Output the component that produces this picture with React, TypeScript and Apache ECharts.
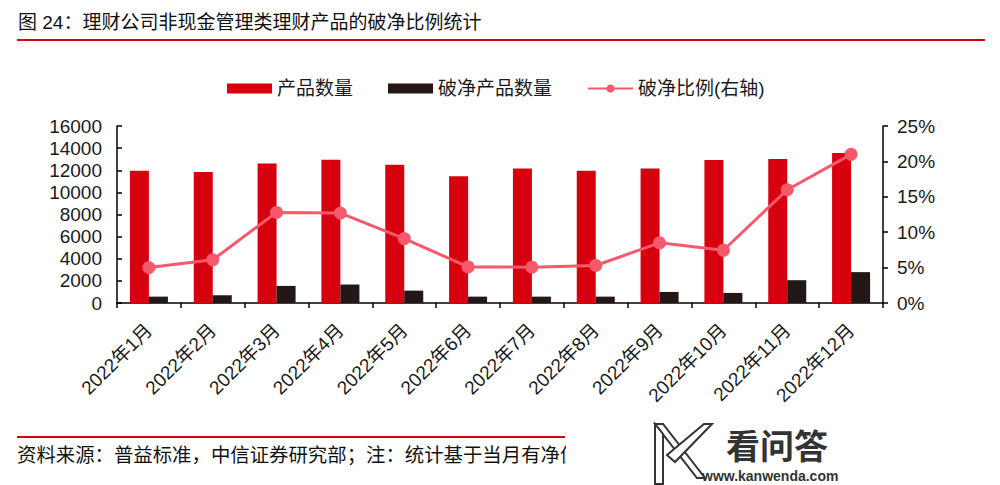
import React, { useEffect, useRef } from "react";
import * as echarts from "echarts";

const categories = [
  "2022年1月", "2022年2月", "2022年3月", "2022年4月", "2022年5月", "2022年6月",
  "2022年7月", "2022年8月", "2022年9月", "2022年10月", "2022年11月", "2022年12月",
];
const productCount = [11950, 11850, 12600, 12950, 12500, 11450, 12150, 11950, 12150, 12930, 13020, 13560];
const brokenCount = [575, 700, 1545, 1670, 1120, 575, 575, 575, 1000, 910, 2060, 2790];
const brokenRatio = [5.0, 6.1, 12.8, 12.7, 9.1, 5.1, 5.05, 5.3, 8.5, 7.45, 16.0, 21.0];

const leftTicks = { min: 0, max: 16000, interval: 2000 };
const rightTicks = { min: 0, max: 25, interval: 5 };

const FONT = '"Liberation Sans", "Noto Sans CJK SC", sans-serif';
const RED = "#D7000F";
const BLACK = "#231815";
const PINK = "#F7596C";
const TEXT = "#1a1a1a";

export default function App() {
  const ref = useRef<HTMLDivElement>(null);
  useEffect(() => {
    if (!ref.current) return;
    const chart = echarts.init(ref.current, null, { renderer: "svg" });
    chart.setOption({
      animation: false,
      textStyle: { fontFamily: FONT },
      legend: {
        top: 74,
        left: 222,
        itemWidth: 45,
        itemHeight: 10,
        itemGap: 35,
        textStyle: { fontSize: 19, color: TEXT, fontFamily: FONT },
        data: [
          { name: "产品数量", icon: "rect" },
          { name: "破净产品数量", icon: "rect" },
          { name: "破净比例(右轴)" },
        ],
      },
      grid: { left: 117, right: 117, top: 126, bottom: 182, containLabel: false },
      xAxis: {
        type: "category",
        data: categories,
        axisLine: { lineStyle: { color: "#000", width: 1.5 } },
        axisTick: { show: true, alignWithLabel: false, length: 5, lineStyle: { color: "#000", width: 1.5 } },
        axisLabel: { rotate: 45, fontSize: 19, color: TEXT, margin: 24, interval: 0, fontFamily: FONT },
      },
      yAxis: [
        {
          type: "value",
          min: leftTicks.min,
          max: leftTicks.max,
          interval: leftTicks.interval,
          splitLine: { show: false },
          axisLine: { show: true, lineStyle: { color: "#000", width: 1.5 } },
          axisTick: { show: true, inside: true, length: 5, lineStyle: { color: "#000", width: 1.5 } },
          axisLabel: { fontSize: 19, color: TEXT, margin: 15, fontFamily: FONT, formatter: (v: number) => String(v) },
        },
        {
          type: "value",
          min: rightTicks.min,
          max: rightTicks.max,
          interval: rightTicks.interval,
          splitLine: { show: false },
          axisLine: { show: true, lineStyle: { color: "#000", width: 1.5 } },
          axisTick: { show: true, inside: false, length: 5, lineStyle: { color: "#000", width: 1.5 } },
          axisLabel: { fontSize: 19, color: TEXT, margin: 14, formatter: "{value}%", fontFamily: FONT },
        },
      ],
      series: [
        {
          name: "产品数量",
          type: "bar",
          data: productCount,
          barWidth: 19,
          barGap: "0%",
          itemStyle: { color: RED },
        },
        {
          name: "破净产品数量",
          type: "bar",
          data: brokenCount,
          barWidth: 19,
          barGap: "0%",
          itemStyle: { color: BLACK },
        },
        {
          name: "破净比例(右轴)",
          type: "line",
          yAxisIndex: 1,
          data: brokenRatio,
          symbol: "circle",
          symbolSize: 13,
          lineStyle: { color: PINK, width: 3 },
          itemStyle: { color: PINK },
          z: 5,
        },
      ],
      graphic: [
        {
          type: "text",
          left: 18,
          top: 13,
          style: { text: "图 24：理财公司非现金管理类理财产品的破净比例统计", fontSize: 19, fill: "#111", fontFamily: FONT },
        },
        {
          type: "line",
          shape: { x1: 17, y1: 40, x2: 985, y2: 40 },
          style: { stroke: RED, lineWidth: 2 },
        },
        {
          type: "line",
          shape: { x1: 17, y1: 437, x2: 565, y2: 437 },
          style: { stroke: RED, lineWidth: 2 },
        },
        {
          type: "text",
          left: 17,
          top: 445,
          style: { text: "资料来源：普益标准，中信证券研究部；注：统计基于当月有净值数据的产品", fontSize: 19.4, fill: "#111", fontFamily: FONT },
        },
        {
          type: "rect",
          shape: { x: 566, y: 420, width: 434, height: 65 },
          style: { fill: "#fff" },
          z: 100,
        },
        {
          type: "polygon",
          shape: { points: [[655, 424], [663, 424], [705, 478], [697, 478]] },
          style: { fill: "#fff", stroke: "#333", lineWidth: 2 },
          z: 101,
        },
        {
          type: "polygon",
          shape: { points: [[704, 424], [712, 424], [675, 462], [667, 455]] },
          style: { fill: "#fff", stroke: "#333", lineWidth: 2 },
          z: 101,
        },
        {
          type: "polygon",
          shape: { points: [[655, 424], [655, 484], [663, 484], [663, 434]] },
          style: { fill: "#fff", stroke: "#333", lineWidth: 2 },
          z: 101,
        },
        {
          type: "text",
          left: 726,
          top: 427,
          style: { text: "看问答", fontSize: 34, lineHeight: 34, fontWeight: "bold", fill: "#333", fontFamily: '"Noto Sans CJK SC", sans-serif' },
          z: 101,
        },
        {
          type: "text",
          left: 702,
          top: 469,
          style: { text: "www.kanwenda.com", fontSize: 14, lineHeight: 14, fontWeight: "bold", fill: "#333", fontFamily: FONT },
          z: 101,
        },
      ],
    });
    return () => chart.dispose();
  }, []);
  return (
    <div
      ref={ref}
      style={{ position: "fixed", left: 0, top: 0, width: 1000, height: 485, background: "#fff" }}
    />
  );
}
